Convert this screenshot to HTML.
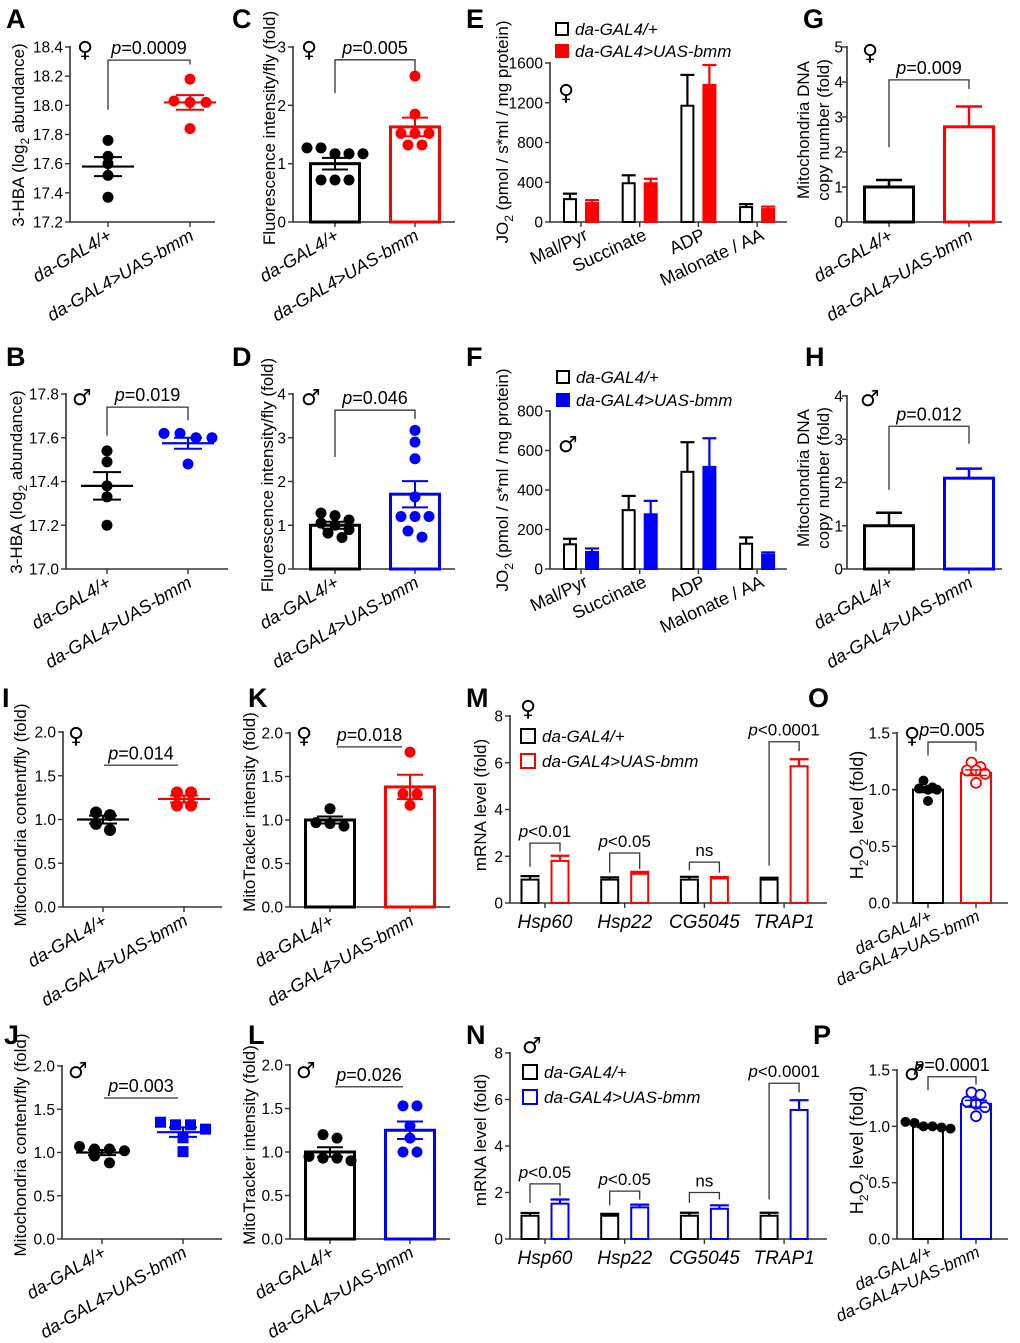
<!DOCTYPE html>
<html><head><meta charset="utf-8"><style>
html,body{margin:0;padding:0;background:#fff;}
svg{display:block;font-family:"Liberation Sans",Arial,sans-serif;}
</style></head><body>
<svg id="fig" width="1020" height="1343" viewBox="0 0 1020 1343" xmlns="http://www.w3.org/2000/svg"></svg>
<script>
// ---------- data ----------
const groupLabels = ["da-GAL4/+", "da-GAL4>UAS-bmm"];
const respCategories = ["Mal/Pyr", "Succinate", "ADP", "Malonate / AA"];
const geneCategories = ["Hsp60", "Hsp22", "CG5045", "TRAP1"];

const aCtrl = [17.76, 17.65, 17.60, 17.52, 17.37];
const aBmm = [18.18, 18.03, 18.02, 18.02, 17.84];
const aMean = [17.58, 18.02];
const aSem = [0.065, 0.05];

const bCtrl = [17.54, 17.49, 17.38, 17.33, 17.20];
const bBmm = [17.62, 17.62, 17.60, 17.60, 17.48];
const bMean = [17.38, 17.575];
const bSem = [0.063, 0.025];

const cCtrl = [1.27, 1.27, 1.17, 1.17, 1.17, 0.72, 0.72, 0.72];
const cBmm = [2.5, 1.85, 1.52, 1.52, 1.52, 1.32, 1.32];
const cMean = [1.0, 1.63];
const cSem = [0.1, 0.16];

const dCtrl = [1.28, 1.22, 1.12, 1.05, 1.0, 0.9, 0.82, 0.72];
const dBmm = [3.17, 2.9, 2.52, 1.65, 1.2, 1.2, 1.2, 0.87, 0.73];
const dMean = [1.0, 1.71];
const dSem = [0.08, 0.3];

const eCtrl = [230, 390, 1170, 150];
const eCtrlErr = [55, 80, 310, 30];
const eBmm = [190, 390, 1380, 130];
const eBmmErr = [30, 45, 200, 25];

const fCtrl = [125, 298, 492, 128];
const fCtrlErr = [28, 72, 150, 32];
const fBmm = [86, 277, 517, 72];
const fBmmErr = [18, 68, 145, 12];

const gMean = [1.0, 2.72];
const gSem = [0.2, 0.58];
const hMean = [1.0, 2.1];
const hSem = [0.3, 0.22];

const iCtrl = [1.08, 1.05, 0.95, 0.88];
const iBmm = [1.31, 1.31, 1.16, 1.16];
const iMean = [1.0, 1.235];
const iSem = [0.045, 0.04];

const jCtrl = [1.02, 1.04, 1.07, 1.04, 0.88, 0.96];
const jBmm = [1.32, 1.32, 1.35, 1.27, 1.17, 1.01];
const jMean = [1.0, 1.235];
const jSem = [0.03, 0.055];

const kCtrl = [1.13, 0.97, 0.96, 0.93];
const kBmm = [1.78, 1.3, 1.3, 1.17];
const kMean = [1.0, 1.38];
const kSem = [0.04, 0.14];

const lCtrl = [1.2, 1.16, 0.95, 0.93, 0.93, 0.9];
const lBmm = [1.53, 1.53, 1.3, 1.16, 1.0, 1.0];
const lMean = [1.0, 1.25];
const lSem = [0.055, 0.1];

const mCtrl = [1.0, 1.0, 1.0, 1.0];
const mCtrlErr = [0.15, 0.1, 0.12, 0.08];
const mBmm = [1.8, 1.25, 1.05, 5.85];
const mBmmErr = [0.22, 0.08, 0.06, 0.3];
const mSig = ["p<0.01", "p<0.05", "ns", "p<0.0001"];

const nCtrl = [1.0, 1.0, 1.0, 1.0];
const nCtrlErr = [0.12, 0.08, 0.13, 0.13];
const nBmm = [1.52, 1.36, 1.3, 5.55];
const nBmmErr = [0.18, 0.12, 0.15, 0.42];
const nSig = ["p<0.05", "p<0.05", "ns", "p<0.0001"];

const oCtrl = [1.08, 1.02, 1.01, 1.0, 1.0, 0.9];
const oBmm = [1.24, 1.2, 1.17, 1.17, 1.14, 1.06];
const oMean = [1.0, 1.15];
const oSem = [0.025, 0.025];

const pCtrl = [1.03, 1.04, 1.0, 1.0, 0.99, 0.98];
const pBmm = [1.3, 1.28, 1.22, 1.2, 1.17, 1.09];
const pMean = [1.0, 1.2];
const pSem = [0.01, 0.03];

// ---------- helpers ----------
const NS = 'http://www.w3.org/2000/svg';
const svg = document.getElementById('fig');
const RED = '#ff0000', BLUE = '#0000ff', BLK = '#000';
function mk(t, a, p) { const e = document.createElementNS(NS, t); for (const k in a) e.setAttribute(k, a[k]); (p || svg).appendChild(e); return e; }
function nm(e, n) {
  
  
  return e;
}
function text(x, y, s, a, p) { const e = mk('text', Object.assign({ x: x, y: y, fill: '#000' }, a || {}), p); e.textContent = s; return e; }
function scaleY(P) { return v => P.yb - (v - P.vmin) / (P.vmax - P.vmin) * (P.yb - P.yt); }

function axes(P, id) {
  const g = mk('g', {}); nm(g, id + '-axes');
  const sy = scaleY(P);
  const ya = mk('line', { x1: P.ax, y1: P.yt - 1, x2: P.ax, y2: P.yb, stroke: '#333', 'stroke-width': 1.6 }, g); nm(ya, id + '-y-axis');
  const xa = mk('line', { x1: P.ax, y1: P.yb, x2: P.end, y2: P.yb, stroke: '#333', 'stroke-width': 1.6 }, g); nm(xa, id + '-x-axis');
  const lo = P.lo || 7;
  for (let v = P.vmin; v <= P.vmax + 1e-9; v += P.step) {
    const y = sy(v);
    mk('line', { x1: P.ax - 5, y1: y, x2: P.ax, y2: y, stroke: '#333', 'stroke-width': 1.4 }, g);
    const t = text(P.ax - lo, y + 5.5, v.toFixed(P.dec), { 'font-size': 15.5, 'text-anchor': 'end' }, g);
    nm(t, id + '-y-tick-label');
  }
  (P.xt || []).forEach(x => mk('line', { x1: x, y1: P.yb, x2: x, y2: P.yb + 5, stroke: '#333', 'stroke-width': 1.4 }, g));
  return sy;
}
function ytitle(x, cy, parts, id, size) {
  const t = mk('text', { x: 0, y: 0, 'font-size': size || 17, 'text-anchor': 'middle', transform: 'translate(' + x + ',' + cy + ') rotate(-90)' });
  parts.forEach(p => { const s = mk('tspan', p.sub ? { 'font-size': 12, dy: 5 } : (p.after ? { dy: -5 } : {}), t); s.textContent = p.t; });
  nm(t, id + '-y-axis-title');
}
function letter(x, y, s) { const t = text(x, y, s, { 'font-size': 27, 'font-weight': 'bold' }); nm(t, 'panel-label-' + s.toLowerCase()); }
function sex(x, y, s, id) { const t = text(x, y, s, { 'font-size': 22, 'font-family': 'DejaVu Sans, sans-serif' }); nm(t, id + '-sex-symbol'); }
function rotLabels(P, id, ang, size) {
  P.xt.forEach((x, i) => {
    const t = mk('text', { x: 0, y: 0, 'font-size': size || 18, 'font-style': 'italic', 'text-anchor': 'end', transform: 'translate(' + (x + 5) + ',' + (P.yb + 17) + ') rotate(' + (ang || -30) + ')' });
    t.textContent = groupLabels[i];
    nm(t, id + '-x-label-' + (i + 1));
  });
}
function pvalue(P, sy, lb, top, rb, label, id, legs) {
  const g = mk('g', {}); nm(g, id + '-significance');
  const x1 = P.bx ? P.bx[0] : P.xt[0], x2 = P.bx ? P.bx[1] : P.xt[1];
  if (legs === false) {
    mk('line', { x1: x1, y1: sy(top), x2: x2, y2: sy(top), stroke: '#555', 'stroke-width': 1.5 }, g);
  } else {
    mk('polyline', { points: x1 + ',' + sy(lb) + ' ' + x1 + ',' + sy(top) + ' ' + x2 + ',' + sy(top) + ' ' + x2 + ',' + sy(rb), fill: 'none', stroke: '#333', 'stroke-width': 1.3 }, g);
  }
  const t = text((x1 + x2) / 2, sy(top) - 6, '', { 'font-size': 18, 'text-anchor': 'middle' }, g);
  const it = mk('tspan', { 'font-style': 'italic' }, t); it.textContent = label[0];
  const rs = mk('tspan', {}, t); rs.textContent = label.slice(1);
}
function dots(vals, cx, sy, color, id, opt) {
  opt = opt || {};
  const r = opt.r || 5.5, sp = opt.sp || 13;
  const idx = vals.map((v, i) => i).sort((a, b) => vals[b] - vals[a]);
  const clusters = []; let cur = [];
  idx.forEach(i => { if (cur.length && Math.abs(sy(vals[cur[0]]) - sy(vals[i])) > (opt.gap || 7)) { clusters.push(cur); cur = []; } cur.push(i); });
  if (cur.length) clusters.push(cur);
  clusters.forEach(c => c.forEach((i, k) => {
    const x = cx + (k - (c.length - 1) / 2) * sp, y = sy(vals[i]);
    let e;
    if (opt.square) e = mk('rect', { x: x - r, y: y - r, width: 2 * r, height: 2 * r, fill: color });
    else if (opt.hollow) e = mk('circle', { cx: x, cy: y, r: r, fill: '#fff', stroke: color, 'stroke-width': 1.8 });
    else e = mk('circle', { cx: x, cy: y, r: r, fill: color });
    nm(e, id + '-point');
  }));
}
function meanSem(cx, sy, mean, sem, color, id, hw) {
  const g = mk('g', {}); nm(g, id + '-mean-sem');
  mk('line', { x1: cx - hw, y1: sy(mean), x2: cx + hw, y2: sy(mean), stroke: color, 'stroke-width': 2.2 }, g);
  mk('line', { x1: cx, y1: sy(mean + sem), x2: cx, y2: sy(mean - sem), stroke: color, 'stroke-width': 2 }, g);
  [mean + sem, mean - sem].forEach(v => mk('line', { x1: cx - 14, y1: sy(v), x2: cx + 14, y2: sy(v), stroke: color, 'stroke-width': 2 }, g));
}
function bar(cx, w, sy, v, color, id, sw, fill) {
  const y = sy(v), y0 = sy(0);
  const e = mk('rect', { x: cx - w / 2 + sw / 2, y: y, width: w - sw, height: y0 - y, fill: fill || 'none', stroke: color, 'stroke-width': sw });
  nm(e, id);
}
function errBar(cx, sy, v, err, color, hw, both, sw) {
  const g = mk('g', {});
  mk('line', { x1: cx, y1: sy(v + err), x2: cx, y2: both ? sy(v - err) : sy(v), stroke: color, 'stroke-width': sw || 2 }, g);
  mk('line', { x1: cx - hw, y1: sy(v + err), x2: cx + hw, y2: sy(v + err), stroke: color, 'stroke-width': sw || 2 }, g);
  if (both) mk('line', { x1: cx - hw, y1: sy(v - err), x2: cx + hw, y2: sy(v - err), stroke: color, 'stroke-width': sw || 2 }, g);
  nm(g, 'error-bar');
}

function scatterPanel(P, id, ctrl, bmm, mean, sem, col, opt) {
  const sy = axes(P, id);
  dots(ctrl, P.xt[0], sy, BLK, id + '-control', opt);
  dots(bmm, P.xt[1], sy, col, id + '-bmm', Object.assign({}, opt, { square: opt && opt.sq }));
  meanSem(P.xt[0], sy, mean[0], sem[0], BLK, id + '-control', 26);
  meanSem(P.xt[1], sy, mean[1], sem[1], col, id + '-bmm', 26);
  rotLabels(P, id);
  return sy;
}
function barDotPanel(P, id, ctrl, bmm, mean, sem, col, opt) {
  const sy = axes(P, id);
  bar(P.xt[0], P.w, sy, mean[0], BLK, id + '-bar-control', P.sw);
  bar(P.xt[1], P.w, sy, mean[1], col, id + '-bar-bmm', P.sw);
  if (ctrl) {
    dots(ctrl, P.xt[0], sy, BLK, id + '-control', opt);
    dots(bmm, P.xt[1], sy, col, id + '-bmm', Object.assign({}, opt, { hollow: opt && opt.hol }));
    errBar(P.xt[0], sy, mean[0], sem[0], BLK, P.cap, true, P.esw);
    errBar(P.xt[1], sy, mean[1], sem[1], col, P.cap, true, P.esw);
  } else {
    errBar(P.xt[0], sy, mean[0], sem[0], BLK, P.cap, false, 2.5);
    errBar(P.xt[1], sy, mean[1], sem[1], col, P.cap, false, 2.5);
  }
  return sy;
}
function groupPanel(P, id, ctrl, cErr, bmm, bErr, col, cats, filled) {
  const sy = axes(P, id);
  cats.forEach((c, i) => {
    const cx = P.g0 + i * P.gs;
    const xb = cx - P.off, xr = cx + P.off;
    bar(xb, P.w, sy, ctrl[i], BLK, id + '-bar-control-' + (i + 1), 2);
    errBar(xb, sy, ctrl[i], cErr[i], BLK, P.w / 2, false, 2.2);
    bar(xr, P.w, sy, bmm[i], col, id + '-bar-bmm-' + (i + 1), 2, filled ? col : 'none');
    errBar(xr, sy, bmm[i], bErr[i], col, P.w / 2, false, 2.2);
    mk('line', { x1: cx, y1: P.yb, x2: cx, y2: P.yb + 5, stroke: '#333', 'stroke-width': 1.4 });
    let t;
    if (P.rot) {
      t = mk('text', { x: 0, y: 0, 'font-size': 18, 'text-anchor': 'end', transform: 'translate(' + (cx + 8) + ',' + (P.yb + 17) + ') rotate(-25)' });
    } else {
      t = mk('text', { x: cx, y: P.yb + 25, 'font-size': 19, 'font-style': 'italic', 'text-anchor': 'middle' });
    }
    t.textContent = c;
    nm(t, id + '-category-label-' + (i + 1));
  });
  return sy;
}
function legend(x, y1, y2, col, filled, id, sz) {
  const g = mk('g', {}); nm(g, id + '-legend');
  const s = sz || 13;
  [[y1, BLK, false, groupLabels[0]], [y2, col, filled, groupLabels[1]]].forEach((r, i) => {
    const e = mk('rect', { x: x, y: r[0] - s / 2, width: s, height: s, fill: r[2] ? r[1] : 'none', stroke: r[1], 'stroke-width': 2 }, g);
    nm(e, id + '-legend-swatch-' + (i + 1));
    const t = text(x + s + 7, r[0] + 6, r[3], { 'font-size': 17, 'font-style': 'italic' }, g);
    nm(t, id + '-legend-label-' + (i + 1));
  });
}
function geneSig(P, sy, sig, lb, top, rb, id) {
  sig.forEach((s, i) => {
    const cx = P.g0 + i * P.gs, x1 = cx - P.off, x2 = cx + P.off;
    const g = mk('g', {}); nm(g, id + '-significance-' + (i + 1));
    mk('polyline', { points: x1 + ',' + sy(lb[i]) + ' ' + x1 + ',' + sy(top[i]) + ' ' + x2 + ',' + sy(top[i]) + ' ' + x2 + ',' + sy(rb[i]), fill: 'none', stroke: '#333', 'stroke-width': 1.3 }, g);
    const t = text(cx, sy(top[i]) - 6, '', { 'font-size': 17, 'text-anchor': 'middle' }, g);
    if (s[0] === 'p') { const a = mk('tspan', { 'font-style': 'italic' }, t); a.textContent = 'p'; const b = mk('tspan', {}, t); b.textContent = s.slice(1); }
    else t.textContent = s;
  });
}

// ===== Row 1 =====
letter(6, 28, 'A');
const PA = { ax: 70, end: 215, yb: 222, yt: 47, vmin: 17.2, vmax: 18.4, step: 0.2, dec: 1, xt: [108, 190] };
let sy = scatterPanel(PA, 'panel-a', aCtrl, aBmm, aMean, aSem, RED, { sp: 16 });
pvalue(PA, sy, 17.97, 18.31, 18.28, 'p=0.0009', 'panel-a');
ytitle(24, 135, [{ t: '3-HBA (log' }, { t: '2', sub: 1 }, { t: ' abundance)', after: 1 }], 'panel-a', 17);
sex(77, 57, '♀', 'panel-a');

letter(232, 28, 'C');
const PC = { ax: 293, end: 455, yb: 222, yt: 47, vmin: 0, vmax: 3, step: 1, dec: 0, xt: [335, 415], w: 52, sw: 3, cap: 13, esw: 2 };
sy = barDotPanel(PC, 'panel-c', cCtrl, cBmm, cMean, cSem, RED, { sp: 14 });
pvalue(PC, sy, 2.21, 2.78, 2.57, 'p=0.005', 'panel-c');
rotLabels(PC, 'panel-c');
ytitle(275, 128, [{ t: 'Fluorescence intensity/fly (fold)' }], 'panel-c');
sex(301, 57, '♀', 'panel-c');

letter(466, 28, 'E');
const PE = { ax: 550, end: 787, yb: 222, yt: 63, vmin: 0, vmax: 1600, step: 400, dec: 0, g0: 581, gs: 58.7, off: 11, w: 14, rot: 1 };
groupPanel(PE, 'panel-e', eCtrl, eCtrlErr, eBmm, eBmmErr, RED, respCategories, true);
legend(556, 29, 51, RED, true, 'panel-e', 12);
ytitle(508, 132, [{ t: 'JO' }, { t: '2', sub: 1 }, { t: ' (pmol / s*ml / mg protein)', after: 1 }], 'panel-e');
sex(558, 100, '♀', 'panel-e');

letter(803, 28, 'G');
const PG = { ax: 847, end: 1002, yb: 222, yt: 47, vmin: 0, vmax: 5, step: 1, dec: 0, xt: [889, 969], w: 52, sw: 3, cap: 13, lo: 4 };
sy = barDotPanel(PG, 'panel-g', null, null, gMean, gSem, RED);
pvalue(PG, sy, 2.14, 4.06, 3.8, 'p=0.009', 'panel-g');
rotLabels(PG, 'panel-g');
ytitle(809, 130, [{ t: 'Mitochondria DNA' }], 'panel-g-line1');
ytitle(829, 130, [{ t: 'copy number (fold)' }], 'panel-g-line2');
sex(862, 60, '♀', 'panel-g');

// ===== Row 2 =====
letter(6, 366, 'B');
const PB = { ax: 66, end: 228, yb: 569, yt: 394, vmin: 17.0, vmax: 17.8, step: 0.2, dec: 1, xt: [107, 188] };
sy = scatterPanel(PB, 'panel-b', bCtrl, bBmm, bMean, bSem, BLUE, { sp: 16 });
pvalue(PB, sy, 17.61, 17.74, 17.68, 'p=0.019', 'panel-b');
ytitle(22, 482, [{ t: '3-HBA (log' }, { t: '2', sub: 1 }, { t: ' abundance)', after: 1 }], 'panel-b', 17);
sex(72, 405, '♂', 'panel-b');

letter(232, 366, 'D');
const PD = { ax: 293, end: 455, yb: 569, yt: 394, vmin: 0, vmax: 4, step: 1, dec: 0, xt: [335, 415], w: 52, sw: 3, cap: 13, esw: 2 };
sy = barDotPanel(PD, 'panel-d', dCtrl, dBmm, dMean, dSem, BLUE, { sp: 14 });
pvalue(PD, sy, 2.56, 3.63, 3.43, 'p=0.046', 'panel-d');
rotLabels(PD, 'panel-d');
ytitle(273, 475, [{ t: 'Fluorescence intensity/fly (fold)' }], 'panel-d');
sex(301, 405, '♂', 'panel-d');

letter(466, 366, 'F');
const PF = { ax: 550, end: 787, yb: 569, yt: 411, vmin: 0, vmax: 800, step: 200, dec: 0, g0: 581, gs: 58.7, off: 11, w: 14, rot: 1 };
groupPanel(PF, 'panel-f', fCtrl, fCtrlErr, fBmm, fBmmErr, BLUE, respCategories, true);
legend(557, 377, 400, BLUE, true, 'panel-f', 12);
ytitle(508, 480, [{ t: 'JO' }, { t: '2', sub: 1 }, { t: ' (pmol / s*ml / mg protein)', after: 1 }], 'panel-f');
sex(558, 452, '♂', 'panel-f');

letter(805, 366, 'H');
const PH = { ax: 847, end: 1002, yb: 569, yt: 396, vmin: 0, vmax: 4, step: 1, dec: 0, xt: [889, 969], w: 52, sw: 3, cap: 13, lo: 4 };
sy = barDotPanel(PH, 'panel-h', null, null, hMean, hSem, BLUE);
pvalue(PH, sy, 1.83, 3.3, 2.9, 'p=0.012', 'panel-h');
rotLabels(PH, 'panel-h');
ytitle(809, 478, [{ t: 'Mitochondria DNA' }], 'panel-h-line1');
ytitle(829, 478, [{ t: 'copy number (fold)' }], 'panel-h-line2');
sex(860, 406, '♂', 'panel-h');

// ===== Row 3 =====
letter(2, 707, 'I');
const PI = { ax: 63, end: 222, yb: 907, yt: 732, vmin: 0, vmax: 2, step: 0.5, dec: 1, xt: [103, 184], bx: [104, 178] };
sy = scatterPanel(PI, 'panel-i', iCtrl, iBmm, iMean, iSem, RED, { sp: 14, r: 6 });
pvalue(PI, sy, 0, 1.62, 0, 'p=0.014', 'panel-i', false);
ytitle(26, 815, [{ t: 'Mitochondria content/fly (fold)' }], 'panel-i');
sex(68, 743, '♀', 'panel-i');

letter(248, 707, 'K');
const PK = { ax: 290, end: 450, yb: 907, yt: 733, vmin: 0, vmax: 2, step: 0.5, dec: 1, xt: [330, 410], bx: [337, 402], w: 52, sw: 3, cap: 13, esw: 2 };
sy = barDotPanel(PK, 'panel-k', kCtrl, kBmm, kMean, kSem, RED, { sp: 14 });
pvalue(PK, sy, 0, 1.84, 0, 'p=0.018', 'panel-k', false);
rotLabels(PK, 'panel-k');
ytitle(255, 812, [{ t: 'MitoTracker intensity (fold)' }], 'panel-k');
sex(296, 743, '♀', 'panel-k');

letter(466, 707, 'M');
const PM = { ax: 510, end: 827, yb: 903, yt: 716, vmin: 0, vmax: 8, step: 2, dec: 0, g0: 545, gs: 79.7, off: 15, w: 19 };
sy = groupPanel(PM, 'panel-m', mCtrl, mCtrlErr, mBmm, mBmmErr, RED, geneCategories, false);
legend(521, 736, 761, RED, false, 'panel-m', 14);
geneSig(PM, sy, mSig, [1.55, 1.3, 1.4, 1.6], [2.56, 2.14, 1.75, 6.9], [2.2, 1.45, 1.3, 6.5], 'panel-m');
ytitle(486, 805, [{ t: 'mRNA level (fold)' }], 'panel-m');
sex(520, 716, '♀', 'panel-m');

letter(808, 707, 'O');
const PO = { ax: 897, end: 1008, yb: 903, yt: 733, vmin: 0, vmax: 1.5, step: 0.5, dec: 1, xt: [928, 976], w: 32, sw: 2, cap: 11, esw: 1.5 };
sy = barDotPanel(PO, 'panel-o', oCtrl, oBmm, oMean, oSem, RED, { sp: 9, r: 5, hol: 1 });
pvalue(PO, sy, 1.30, 1.42, 1.34, 'p=0.005', 'panel-o');
rotLabels(PO, 'panel-o', -25, 17);
ytitle(863, 815, [{ t: 'H' }, { t: '2', sub: 1 }, { t: 'O', after: 1 }, { t: '2', sub: 1 }, { t: ' level (fold)', after: 1 }], 'panel-o', 18);
sex(904, 743, '♀', 'panel-o');

// ===== Row 4 =====
letter(4, 1044, 'J');
const PJ = { ax: 62, end: 222, yb: 1239, yt: 1066, vmin: 0, vmax: 2, step: 0.5, dec: 1, xt: [102, 183], bx: [104, 178] };
sy = scatterPanel(PJ, 'panel-j', jCtrl, jBmm, jMean, jSem, BLUE, { sp: 15, r: 5.5, sq: 1 });
pvalue(PJ, sy, 0, 1.63, 0, 'p=0.003', 'panel-j', false);
ytitle(26, 1145, [{ t: 'Mitochondria content/fly (fold)' }], 'panel-j');
sex(68, 1078, '♂', 'panel-j');

letter(248, 1044, 'L');
const PL = { ax: 290, end: 450, yb: 1239, yt: 1065, vmin: 0, vmax: 2, step: 0.5, dec: 1, xt: [330, 410], bx: [335, 403], w: 52, sw: 3, cap: 13, esw: 2 };
sy = barDotPanel(PL, 'panel-l', lCtrl, lBmm, lMean, lSem, BLUE, { sp: 14 });
pvalue(PL, sy, 0, 1.75, 0, 'p=0.026', 'panel-l', false);
rotLabels(PL, 'panel-l');
ytitle(255, 1145, [{ t: 'MitoTracker intensity (fold)' }], 'panel-l');
sex(296, 1078, '♂', 'panel-l');

letter(466, 1044, 'N');
const PN = { ax: 510, end: 827, yb: 1239, yt: 1053, vmin: 0, vmax: 8, step: 2, dec: 0, g0: 545, gs: 79.7, off: 15, w: 19 };
sy = groupPanel(PN, 'panel-n', nCtrl, nCtrlErr, nBmm, nBmmErr, BLUE, geneCategories, false);
legend(523, 1072, 1097, BLUE, false, 'panel-n', 14);
geneSig(PN, sy, nSig, [1.55, 1.45, 1.55, 1.7], [2.37, 2.06, 2.0, 6.7], [1.85, 1.7, 1.7, 6.3], 'panel-n');
ytitle(486, 1140, [{ t: 'mRNA level (fold)' }], 'panel-n');
sex(522, 1053, '♂', 'panel-n');

letter(813, 1044, 'P');
const PP = { ax: 897, end: 1008, yb: 1239, yt: 1070, vmin: 0, vmax: 1.5, step: 0.5, dec: 1, xt: [928, 976], w: 32, sw: 2, cap: 11, esw: 1.5 };
sy = barDotPanel(PP, 'panel-p', pCtrl, pBmm, pMean, pSem, BLUE, { sp: 9, r: 5, hol: 1 });
pvalue(PP, sy, 1.32, 1.44, 1.37, 'p=0.0001', 'panel-p');
rotLabels(PP, 'panel-p', -25, 17);
ytitle(863, 1150, [{ t: 'H' }, { t: '2', sub: 1 }, { t: 'O', after: 1 }, { t: '2', sub: 1 }, { t: ' level (fold)', after: 1 }], 'panel-p', 18);
sex(904, 1080, '♂', 'panel-p');
</script>
</body></html>
